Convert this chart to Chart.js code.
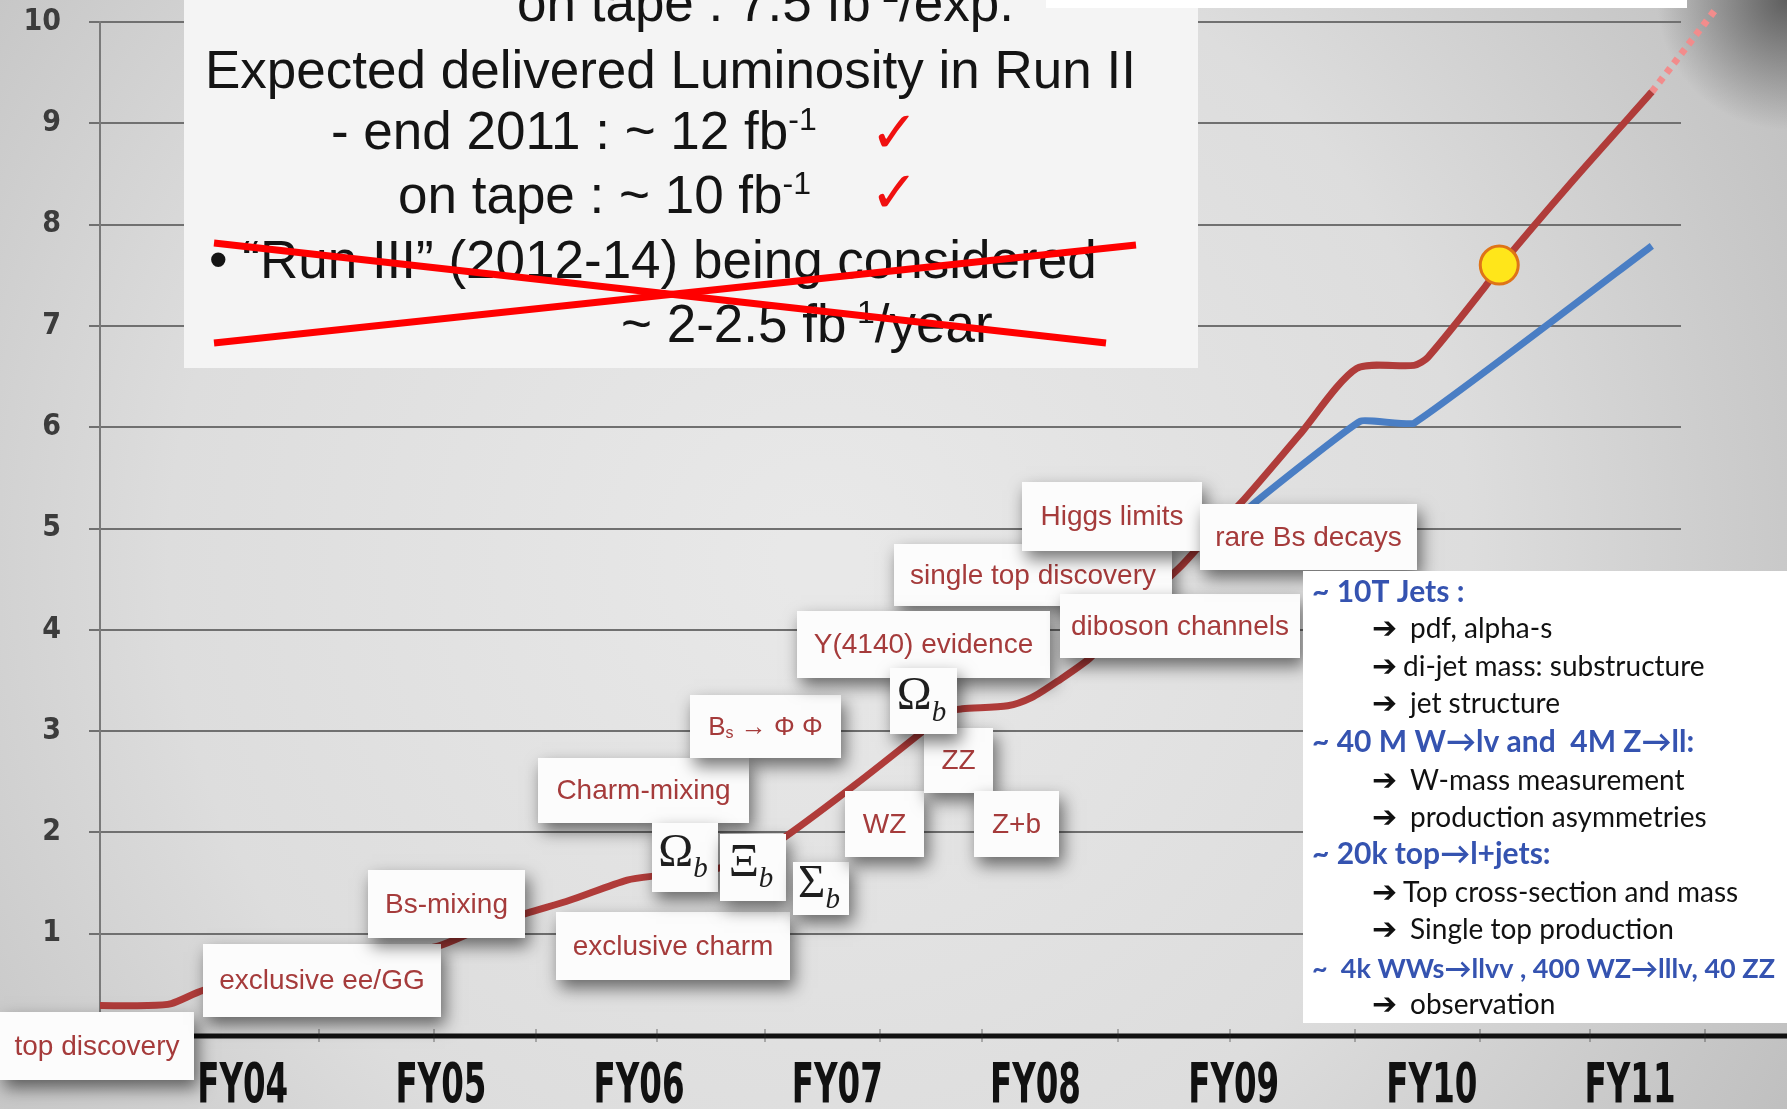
<!DOCTYPE html>
<html><head><meta charset="utf-8">
<script src="https://cdn.jsdelivr.net/npm/chart.js@4.4.1/dist/chart.umd.min.js"></script>
<style>html,body{margin:0;padding:0;background:#d8d8d8;overflow:hidden}canvas{display:block}</style>
</head><body>
<canvas id="c" width="1787" height="1109"></canvas>
<script>
// ---------------- DATA ----------------
const fyTicks  = [4, 5, 6, 7, 8, 9, 10, 11];
const fyLabels = ['FY04','FY05','FY06','FY07','FY08','FY09','FY10','FY11'];

// delivered integrated luminosity (fb^-1) vs fiscal year
const deliveredX = [3.28,3.52,3.64,3.80,4.10,4.44,4.73,4.99,5.19,5.43,5.65,5.94,6.08,6.34,6.57,6.74,7.09,7.42,7.55,7.63,7.86,7.98,8.11,8.28,8.53,8.74,8.87,9.04,9.33,9.62,9.91,9.98,10.27,10.34,10.71,11.11];
const deliveredY = [0.29,0.29,0.31,0.44,0.56,0.71,0.79,0.88,1.04,1.20,1.33,1.53,1.57,1.62,1.75,1.96,2.47,2.98,3.19,3.22,3.25,3.33,3.49,3.73,4.25,4.64,4.92,5.26,5.92,6.58,6.61,6.69,7.39,7.58,8.43,9.31];
// projection (dotted)
const projectedX = [11.11, 11.43];
const projectedY = [9.31, 10.12];
// second (blue) curve
const onTapeX = [9.01, 9.08, 9.64, 9.91, 11.11];
const onTapeY = [4.98, 5.21, 6.06, 6.04, 7.79];
// "today" marker
const markerX = [10.34];
const markerY = [7.60];

// physics result annotations
const physicsLabels = ['top discovery','exclusive ee/GG','Bs-mixing','exclusive charm','Charm-mixing',
  'Ω_{b}','Ξ_{b}','Σ_{b}','B_{s} → Φ Φ','WZ','ZZ','Z+b','single top discovery','Y(4140) evidence',
  'Ω_{b}','diboson channels','Higgs limits','rare Bs decays'];

// text of the upper-left panel
const summaryLines = ['on tape : 7.5 fb^{-1}/exp.','Expected delivered Luminosity in Run II',
  '- end 2011 : ~ 12 fb^{-1}','on tape : ~ 10 fb^{-1}','• “Run III” (2012-14) being considered','~ 2-2.5 fb^{-1}/year'];

// text of the right panel
const noteLines = ['~ 10T Jets :','➔ pdf, alpha-s','➔di-jet mass: substructure','➔ jet structure',
  '~ 40 M W→lv and  4M Z→ll:','➔ W-mass measurement','➔ production asymmetries',
  '~ 20k top→l+jets:','➔Top cross-section and mass','➔ Single top production',
  '~  4k WWs→llvv , 400 WZ→lllv, 40 ZZ','➔ observation'];

// ---------------- LAYOUT (pixels) ----------------
const boxRects = [[0,1012,194,1080],[203,944,441,1017],[368,870,525,938],[556,912,790,980],[538,758,749,823],
  [652,823,718,892],[720,834,786,901],[793,862,849,915],[690,695,841,758],[845,791,924,857],[924,728,993,793],[974,791,1059,857],
  [894,544,1172,606],[797,611,1050,678],[890,668,957,734],[1060,594,1300,658],[1022,482,1202,551],[1200,504,1417,570]];
const boxKinds = ['r','r','r','r','r','g','g','g','rs','r','r','r','r','r','g','r','r','r'];
const summaryPos = [[517,21],[205,88],[331,149],[398,213],[209,278],[621,342]];
const checkPos = [[870,152],[870,212]];
const noteArrowX = 1372;
const noteX = [1312,1410,1403,1410,1312,1410,1410,1312,1403,1410,1312,1410];
const noteBase = [602,638,676,713,752,790,827,864,902,939,978,1014];
const fyLabelWidth = 91;
const axisMinorTicks = [319, 434, 536, 657, 765, 880, 982, 1118, 1230, 1355, 1480, 1590, 1705];

// ---------------- HELPERS ----------------
function parseRich(str){
  const out=[]; let buf=''; let i=0;
  while(i<str.length){
    const c=str[i];
    if((c==='^'||c==='_') && str[i+1]==='{'){
      if(buf){out.push({t:buf,m:'n'});buf='';}
      const end=str.indexOf('}',i);
      out.push({t:str.slice(i+2,end),m:c==='^'?'sup':'sub'});
      i=end+1;
    } else {buf+=c;i++;}
  }
  if(buf) out.push({t:buf,m:'n'});
  return out;
}
function drawRich(ctx,str,x,y,st,align){
  const parts=parseRich(str);
  const f=m=> m==='n' ? `${st.weight||'normal'} ${st.size}px ${st.family}`
                      : `${st.subStyle||'normal'} ${st.weight||'normal'} ${Math.round(st.size*(st.subScale||0.6))}px ${st.subFamily||st.family}`;
  let w=0;
  parts.forEach(p=>{ctx.font=f(p.m);p.w=ctx.measureText(p.t).width;w+=p.w;});
  let cx = align==='center' ? x-w/2 : x;
  parts.forEach(p=>{
    ctx.font=f(p.m);
    const dy = p.m==='sup' ? -st.size*0.36 : (p.m==='sub' ? st.size*(st.subDy||0.22) : 0);
    ctx.fillText(p.t,cx,y+dy); cx+=p.w;
  });
}

const overlay = {
  id:'overlay',
  beforeDraw(chart){
    const ctx=chart.ctx, W=chart.width, H=chart.height;
    ctx.save();
    const g=ctx.createRadialGradient(820,560,40,820,560,1150);
    g.addColorStop(0,'#e8e8e8'); g.addColorStop(0.55,'#dddddd'); g.addColorStop(1,'#bdbdbd');
    ctx.fillStyle=g; ctx.fillRect(0,0,W,H);
    const s=ctx.createRadialGradient(1787,0,0,1787,0,130);
    s.addColorStop(0,'rgba(70,70,70,0.8)'); s.addColorStop(1,'rgba(70,70,70,0)');
    ctx.fillStyle=s; ctx.fillRect(1650,0,137,130);
    ctx.restore();
  },
  afterDatasetsDraw(chart){
    const ctx=chart.ctx, ca=chart.chartArea, ys=chart.scales.y, xs=chart.scales.x;
    ctx.save();
    // thick x axis line
    const y0=ys.getPixelForValue(0);
    ctx.strokeStyle='#111'; ctx.lineWidth=5;
    ctx.beginPath(); ctx.moveTo(ca.left,y0+1); ctx.lineTo(chart.width,y0+1); ctx.stroke();
    ctx.strokeStyle='rgba(40,40,40,0.3)'; ctx.lineWidth=2;
    axisMinorTicks.forEach(px=>{ctx.beginPath();ctx.moveTo(px,y0-6);ctx.lineTo(px,y0+7);ctx.stroke();});
    // FY labels (condensed)
    ctx.fillStyle='#111'; ctx.textBaseline='alphabetic'; ctx.textAlign='center';
    ctx.font="bold 56px 'DejaVu Sans Condensed','DejaVu Sans',sans-serif";
    fyTicks.forEach((v,i)=>{
      const px=xs.getPixelForValue(v);
      const w=ctx.measureText(fyLabels[i]).width;
      const k=fyLabelWidth/w;
      ctx.save(); ctx.translate(px,1102); ctx.scale(k,1); ctx.fillText(fyLabels[i],0,0); ctx.restore();
    });
    ctx.textAlign='left';
    // annotation boxes
    boxRects.forEach((b,i)=>{
      ctx.save();
      ctx.shadowColor='rgba(0,0,0,0.55)'; ctx.shadowBlur=16; ctx.shadowOffsetX=4; ctx.shadowOffsetY=8;
      ctx.fillStyle='#fcfcfc'; ctx.fillRect(b[0],b[1],b[2]-b[0],b[3]-b[1]);
      ctx.restore();
      const cx=(b[0]+b[2])/2, cy=(b[1]+b[3])/2;
      ctx.textBaseline='middle';
      const k=boxKinds[i];
      if(k==='g'){
        ctx.fillStyle='#1e1e1e';
        drawRich(ctx,physicsLabels[i],cx-2,cy-4,{size:47,family:"'Liberation Serif', serif",subStyle:'italic',subScale:0.62,subDy:0.34},'center');
      } else if(k==='rs'){
        ctx.fillStyle='#a53b3b';
        drawRich(ctx,physicsLabels[i],cx,cy+1,{size:26,family:"'Liberation Sans', Arial, sans-serif",subScale:0.62,subDy:0.25},'center');
      } else {
        ctx.fillStyle='#a53b3b';
        ctx.font="28px 'Liberation Sans', Arial, sans-serif";
        ctx.textAlign='center';
        ctx.fillText(physicsLabels[i],cx,cy+1);
        ctx.textAlign='left';
      }
    });
    // upper-left summary panel
    ctx.fillStyle='#f4f4f4'; ctx.fillRect(184,0,1014,368);
    ctx.textBaseline='alphabetic'; ctx.fillStyle='#141414';
    summaryLines.forEach((t,i)=>{
      drawRich(ctx,t,summaryPos[i][0],summaryPos[i][1],{size:53,family:"'Liberation Sans', Arial, sans-serif",subScale:0.6},'left');
    });
    ctx.fillStyle='#f01010'; ctx.font="bold 58px 'DejaVu Sans', sans-serif";
    checkPos.forEach(p=>ctx.fillText('✓',p[0],p[1]));
    ctx.strokeStyle='#ff0000'; ctx.lineWidth=7; ctx.lineCap='butt';
    ctx.beginPath(); ctx.moveTo(214,243); ctx.lineTo(1106,343); ctx.stroke();
    ctx.beginPath(); ctx.moveTo(214,343); ctx.lineTo(1136,245); ctx.stroke();
    // top-right strip
    ctx.fillStyle='#ffffff'; ctx.fillRect(1046,0,641,8);
    // right notes panel
    ctx.fillStyle='#ffffff'; ctx.fillRect(1303,571,484,452);
    noteLines.forEach((t,i)=>{
      if(t.startsWith('➔')){
        ctx.fillStyle='#111';
        ctx.font="bold 30px 'DejaVu Sans', sans-serif";
        ctx.fillText('➔',noteArrowX,noteBase[i]);
        ctx.font="28px Lato, 'Noto Sans', sans-serif";
        ctx.fillText(t.slice(1).trim(),noteX[i],noteBase[i]);
      } else {
        ctx.fillStyle='#3553b0';
        ctx.font = (i===10? "bold 27px" : "bold 30px")+" Lato, 'Noto Sans', sans-serif";
        ctx.fillText(t,noteX[i],noteBase[i]);
      }
    });
    ctx.restore();
  }
};

const pts=(xs,ys)=>xs.map((x,i)=>({x:x,y:ys[i]}));

new Chart(document.getElementById('c'),{
  type:'line',
  data:{datasets:[
    {type:'scatter',label:'now',data:pts(markerX,markerY),pointRadius:19,pointBackgroundColor:'#ffe61a',pointBorderColor:'#df7418',pointBorderWidth:3,order:0},
    {label:'delivered',data:pts(deliveredX,deliveredY),borderColor:'#b03c3a',borderWidth:7,pointRadius:0,tension:0.25,fill:false,order:1},
    {label:'on tape',data:pts(onTapeX,onTapeY),borderColor:'#4a7ec4',borderWidth:7,pointRadius:0,tension:0.1,fill:false,order:2},
    {label:'projected',data:pts(projectedX,projectedY),borderColor:'#f28c8c',borderWidth:7,borderDash:[6,6],pointRadius:0,fill:false,clip:false,order:3}
  ]},
  options:{
    responsive:false, devicePixelRatio:1, animation:false,
    layout:{autoPadding:false,padding:{top:22,right:106,bottom:0,left:0}},
    plugins:{legend:{display:false},tooltip:{enabled:false}},
    scales:{
      x:{type:'linear',min:3.28,max:11.257,
        afterBuildTicks:s=>{s.ticks=fyTicks.map(v=>({value:v}));},
        afterFit:s=>{s.height=74;s.paddingLeft=0;s.paddingRight=0;},
        grid:{display:false,drawTicks:false},
        border:{display:false},
        ticks:{display:false,callback:v=>fyLabels[fyTicks.indexOf(v)]}
      },
      y:{min:0,max:10,
        afterFit:s=>{s.width=100;s.paddingTop=0;s.paddingBottom=0;},
        grid:{color:'#707070',lineWidth:2,tickLength:11,drawTicks:true},
        border:{display:true,color:'#7a7a7a',width:2},
        ticks:{stepSize:1,padding:28,color:'#3c3c3c',
          font:{family:"'DejaVu Sans Condensed','DejaVu Sans',sans-serif",weight:'bold',size:30}}
      }
    }
  },
  plugins:[overlay]
});
</script>
</body></html>
